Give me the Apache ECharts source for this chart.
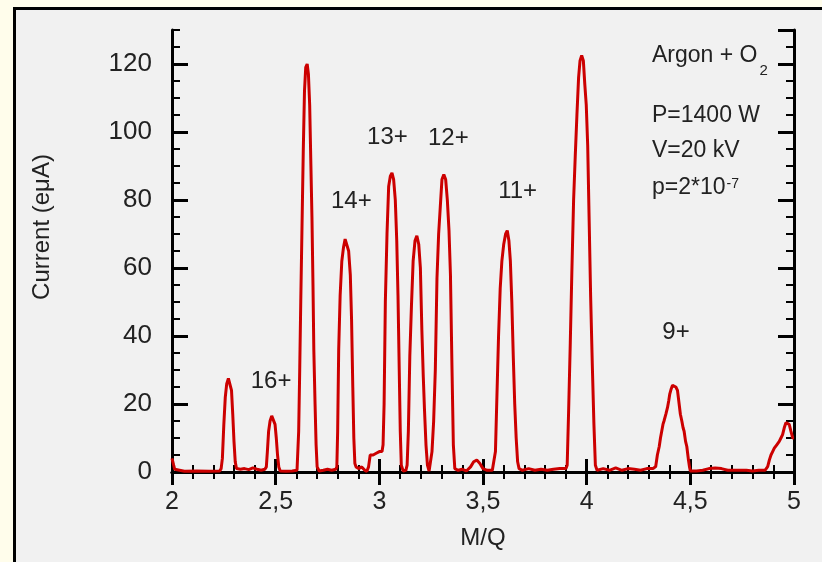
<!DOCTYPE html>
<html>
<head>
<meta charset="utf-8">
<script src="https://cdn.jsdelivr.net/npm/echarts@6/dist/echarts.min.js"></script>
<style>
  body { margin: 0; background: #fffdeb; }
  #panel { position: absolute; left: 13px; top: 7px; right: 0; bottom: 0; background: #f1f1f1;
           border-left: 3px solid #000; border-top: 3px solid #000; }
  #chart { position: absolute; left: 0; top: 0; width: 822px; height: 562px; }
</style>
</head>
<body>
<div id="panel"></div>
<div id="chart"></div>
<script>
// trace, [M/Q, current eµA], piece by piece
const baseStart = [[2.000, 4], [2.004, 3.5], [2.008, 2], [2.013, 0.8], [2.020, 0.3], [2.060, 0.2], [2.120, 0.3], [2.180, 0.2], [2.230, 0.3]];
const peakA = [[2.237, 1], [2.243, 4], [2.250, 14], [2.257, 22], [2.264, 26], [2.272, 27.5], [2.280, 27], [2.287, 24], [2.293, 17], [2.299, 9], [2.305, 3], [2.311, 1]];
const baseA = [[2.330, 0.8], [2.350, 1], [2.370, 0.7], [2.390, 1.2], [2.410, 0.8], [2.430, 0.5], [2.448, 0.8]];
const peak16 = [[2.455, 1.5], [2.460, 6], [2.466, 12], [2.473, 15], [2.481, 16.5], [2.490, 16], [2.497, 14], [2.503, 10], [2.509, 5], [2.515, 1.5], [2.522, 0.3]];
const base16 = [[2.550, 0.2], [2.580, 0.3], [2.603, 0.5]];
const peakB = [[2.606, 1], [2.611, 12], [2.616, 30], [2.621, 50], [2.627, 72], [2.633, 94], [2.639, 112], [2.645, 119], [2.652, 120], [2.658, 117], [2.664, 108], [2.670, 90], [2.675, 75], [2.680, 55], [2.684, 36], [2.690, 20], [2.695, 8], [2.700, 1.5]];
const baseB = [[2.710, 0.3], [2.730, 0.5], [2.750, 0.8], [2.770, 0.5], [2.790, 0.8]];
const peak14 = [[2.795, 1.5], [2.799, 12], [2.804, 36], [2.811, 52], [2.819, 62], [2.827, 66], [2.835, 68.5], [2.843, 68], [2.852, 65], [2.860, 58], [2.866, 45], [2.872, 25], [2.877, 10], [2.882, 2.5], [2.888, 1.5]];
const base14 = [[2.900, 1], [2.915, 1.5], [2.930, 0.5], [2.940, 0.2], [2.948, 1.5], [2.956, 5], [2.970, 5], [2.985, 5.5], [3.000, 6], [3.013, 6]];
const peak13 = [[3.018, 8], [3.023, 20], [3.029, 50], [3.037, 70], [3.045, 84], [3.053, 87], [3.061, 88], [3.069, 86], [3.077, 80], [3.084, 68], [3.090, 52], [3.096, 30], [3.101, 12], [3.106, 2]];
const base13 = [[3.115, 0.3], [3.128, 0.5]];
const peakC = [[3.134, 2], [3.140, 12], [3.147, 34], [3.155, 49], [3.163, 62], [3.172, 68], [3.181, 69.5], [3.190, 67], [3.198, 60], [3.205, 42], [3.212, 28], [3.218, 18], [3.225, 8], [3.232, 2]];
const baseC = [[3.240, 0.3], [3.247, 0.5]];
const peak12 = [[3.254, 6], [3.262, 15], [3.270, 30], [3.278, 57], [3.286, 70], [3.294, 78], [3.302, 86], [3.311, 87.5], [3.320, 86], [3.328, 80], [3.336, 71], [3.343, 58], [3.350, 32], [3.357, 8], [3.364, 1]];
const base12 = [[3.380, 0.5], [3.400, 0.8], [3.420, 0.3], [3.440, 1.5], [3.455, 3], [3.470, 3.5], [3.485, 2.5], [3.500, 1], [3.520, 0.5], [3.545, 0.5]];
const peak11 = [[3.553, 1], [3.560, 6], [3.567, 22], [3.575, 40], [3.583, 54], [3.591, 62], [3.600, 67], [3.609, 70], [3.617, 71], [3.625, 68], [3.632, 62], [3.639, 50], [3.646, 34], [3.653, 20], [3.660, 10], [3.667, 3], [3.674, 1]];
const base11 = [[3.690, 0.5], [3.720, 1], [3.750, 0.5], [3.780, 0.8], [3.810, 0.5], [3.840, 0.8], [3.870, 1], [3.900, 1]];
const peakD = [[3.906, 2], [3.913, 18], [3.921, 38], [3.929, 60], [3.937, 80], [3.945, 93], [3.953, 105], [3.961, 116], [3.968, 121], [3.976, 122.5], [3.984, 121], [3.991, 114], [3.998, 108], [4.005, 96], [4.012, 74], [4.019, 52], [4.027, 32], [4.035, 14], [4.042, 2]];
const baseD = [[4.050, 0.5], [4.080, 1], [4.110, 0.5], [4.140, 1.2], [4.170, 0.5], [4.200, 1], [4.230, 0.8], [4.260, 0.5], [4.290, 1], [4.320, 1]];
const peak9 = [[4.333, 1.6], [4.341, 5], [4.350, 7.5], [4.356, 10], [4.362, 12], [4.368, 14], [4.373, 15], [4.382, 17], [4.390, 19], [4.396, 21], [4.401, 23], [4.408, 24.5], [4.414, 25.5], [4.422, 25.5], [4.430, 25], [4.438, 24], [4.446, 20], [4.452, 17], [4.459, 15], [4.465, 13], [4.470, 12], [4.477, 9], [4.483, 7.5], [4.488, 5], [4.491, 3.5], [4.496, 1.5], [4.500, 0.3]];
const base9 = [[4.530, 0.3], [4.560, 0.5], [4.590, 1], [4.620, 1.2], [4.650, 1], [4.680, 0.5], [4.710, 0.5], [4.740, 0.5], [4.770, 0.5], [4.800, 0.3], [4.830, 0.5], [4.860, 0.5], [4.868, 0.8]];
const tailEnd = [[4.873, 1.6], [4.881, 3.5], [4.889, 5], [4.897, 6], [4.905, 7], [4.917, 8], [4.929, 9], [4.937, 10], [4.945, 11], [4.953, 13], [4.961, 14.5], [4.969, 14.5], [4.977, 14], [4.985, 12], [4.994, 10], [5.000, 10]];

// charge state labels, [M/Q, current, text]
const chargeLabels = [[2.478, 26.8, '16+'], [2.865, 79.7, '14+'], [3.039, 98.5, '13+'], [3.333, 98.2, '12+'], [3.667, 82.4, '11+'], [4.431, 41.2, '9+']];

const xTickLabels = ['2', '2,5', '3', '3,5', '4', '4,5', '5'];
const yTickLabels = ['0', '20', '40', '60', '80', '100', '120'];

const trace = [].concat(baseStart, peakA, baseA, peak16, base16, peakB, baseB, peak14, base14,
  peak13, base13, peakC, baseC, peak12, base12, peak11, base11, peakD, baseD, peak9, base9, tailEnd);

const FONT = '"Liberation Sans", Arial, Helvetica, sans-serif';
const TXT = '#222';

// measure text so the sub/superscripts sit right after their line
const measureCtx = document.createElement('canvas').getContext('2d');
function textWidth(str, size) {
  measureCtx.font = size + 'px ' + FONT;
  return measureCtx.measureText(str).width;
}

const infoX = 652;
const infoSize = 23;
const infoLines = [['Argon + O', 56], ['P=1400 W', 116], ['V=20 kV', 151], ['p=2*10', 188]];
const graphics = infoLines.map(l => ({
  type: 'text', x: infoX, y: l[1], silent: true,
  style: { text: l[0], fontSize: infoSize, fontFamily: FONT, fill: TXT, align: 'left', verticalAlign: 'middle' }
}));
graphics.push({
  type: 'text', x: infoX + textWidth('Argon + O', infoSize) + 2, y: 71, silent: true,
  style: { text: '2', fontSize: 15, fontFamily: FONT, fill: TXT, align: 'left', verticalAlign: 'middle' }
});
graphics.push({
  type: 'text', x: infoX + textWidth('p=2*10', infoSize) + 1, y: 184, silent: true,
  style: { text: '-7', fontSize: 14, fontFamily: FONT, fill: TXT, align: 'left', verticalAlign: 'middle' }
});
graphics.push({
  type: 'text', x: 42, y: 227, rotation: Math.PI / 2, silent: true,
  style: { text: 'Current (eμA)', fontSize: 24, fontFamily: FONT, fill: TXT, align: 'center', verticalAlign: 'middle' }
});

const black = { color: '#000', width: 3 };

function xAx(pos, labels) {
  return {
    type: 'value', position: pos, min: 2, max: 5, interval: 0.5,
    axisLine: { show: true, lineStyle: black },
    axisTick: { show: true, inside: true, length: 13, lineStyle: black },
    minorTick: { show: true, splitNumber: 5, length: 7, lineStyle: { color: '#000', width: 2 } },
    splitLine: { show: false },
    axisLabel: labels ? {
      show: true, fontSize: 25, fontFamily: FONT, color: TXT, margin: 18,
      formatter: v => xTickLabels[Math.round((v - 2) / 0.5)]
    } : { show: false },
    name: labels ? 'M/Q' : '', nameLocation: 'middle', nameGap: 54,
    nameTextStyle: { fontSize: 24, fontFamily: FONT, color: TXT }
  };
}

function yAx(pos, step, len, labels) {
  return {
    type: 'value', position: pos, min: 0, max: 130, interval: step,
    axisLine: { show: step === 20, lineStyle: black },
    axisTick: { show: true, inside: true, length: len, lineStyle: { color: '#000', width: step === 20 ? 3 : 2 } },
    splitLine: { show: false },
    axisLabel: labels ? {
      show: true, fontSize: 26, fontFamily: FONT, color: TXT, margin: 20, showMaxLabel: false,
      formatter: v => yTickLabels[v / 20] || ''
    } : { show: false }
  };
}

const chart = echarts.init(document.getElementById('chart'), null, { renderer: 'canvas' });
chart.setOption({
  animation: false,
  backgroundColor: 'transparent',
  grid: { left: 172, right: 28, top: 30, bottom: 90 },
  xAxis: [xAx('bottom', true), xAx('top', false)],
  yAxis: [yAx('left', 20, 16, true), yAx('left', 5, 8, false), yAx('right', 20, 16, false), yAx('right', 5, 8, false)],
  graphic: graphics,
  series: [
    {
      type: 'line', xAxisIndex: 0, yAxisIndex: 0, data: trace,
      showSymbol: false, symbol: 'none', clip: true,
      lineStyle: { color: '#cc0000', width: 3 }
    },
    {
      type: 'scatter', xAxisIndex: 0, yAxisIndex: 0, data: chargeLabels,
      symbolSize: 0, silent: true, itemStyle: { opacity: 1 },
      label: {
        show: true, position: 'inside', formatter: p => p.data[2],
        fontSize: 24, fontFamily: FONT, color: TXT, opacity: 1
      }
    }
  ]
});
</script>
</body>
</html>
